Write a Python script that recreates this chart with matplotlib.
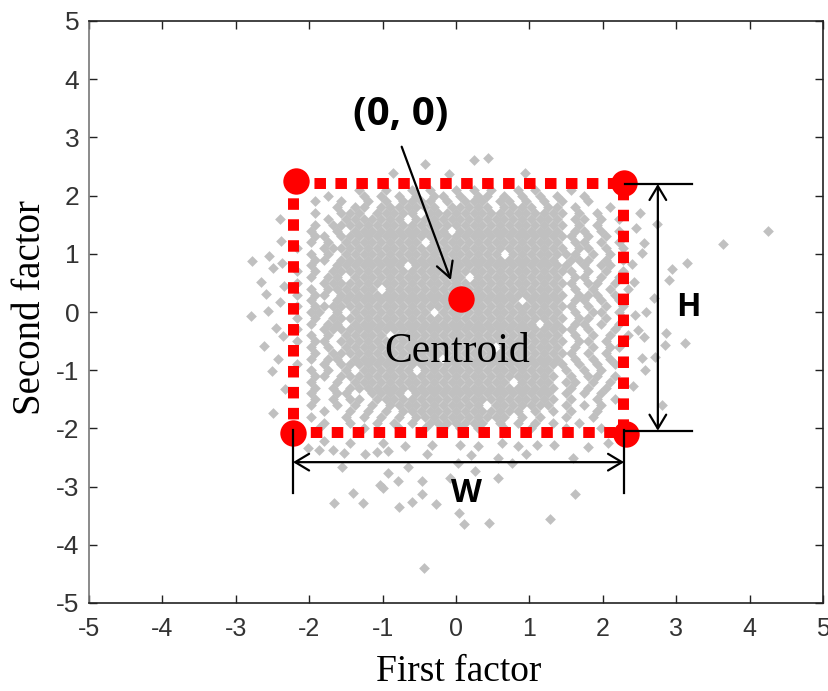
import matplotlib
matplotlib.use("Agg")
import matplotlib.pyplot as plt
from matplotlib.patches import FancyArrowPatch, ArrowStyle

plt.rcParams['axes.unicode_minus'] = False

# ---------------- data ----------------
x_ticks = [-5, -4, -3, -2, -1, 0, 1, 2, 3, 4, 5]
y_ticks = [-5, -4, -3, -2, -1, 0, 1, 2, 3, 4, 5]
x_label = "First factor"
y_label = "Second factor"

# dense part of the cloud, read from the picture as an occupancy map
# (rows from top y=2.1 downwards in 0.1 steps; columns from x=-2.16 in 0.12 steps,
#  odd rows shifted by half a column)
cloud_left = -2.16
cloud_dx = 0.12
cloud_top = 2.10
cloud_dy = 0.10
cloud_rows = [
    "......." + "#..#..#.#..#.#.#..#.#." + "..#......",
    "...#..." + "#.#.#.#.##.#.##.#.#.#." + "#..#.....",
    "..#..#." + ".#.#.####.#.###.##.#.#" + ".#..#....",
    "....#.#" + "#.#######.#####.####.#" + "#.#...#..",
    "..#..##" + "#.#####.##############" + "##.#.#...",
    "...#.##" + "#####.################" + "#.##.#.#.",
    "..#.###" + "######################" + "##.#.#...",
    ".#..#.#" + "##########.###########" + "#.##.#.#.",
    "..##.##" + "######################" + "###.#.#..",
    ".#.#.##" + "#######.##############" + "#.##.#.#.",
    "#..####" + "######################" + "##.##.#.#",
    ".#.#.##" + "################.#####" + "###.#.#..",
    "..##.##" + "######################" + "#.###.#.#",
    ".#..###" + "#####.################" + "##.#.##..",
    "#.#.###" + "######################" + "###.#.#.#",
    ".#.##.#" + "############.#########" + "#.##.#.#.",
    "#..####" + "######################" + "###.##.#.",
    ".#.####" + "##.###################" + "#.#.#.#.#",
    "#.##.##" + "######################" + "##.###.#.",
    ".#..###" + "##################.###" + "#.##.#.#.",
    "#.#####" + "######################" + "###.#.#.#",
    ".##.#.#" + "########.#############" + "#.#.##.#.",
    "#.#.###" + "######################" + "##.##.#.#",
    ".#.##.#" + "####################.#" + "#.##.#.#.",
    "#..####" + "######################" + "###.#..#.",
    ".#.#.##" + "###.##################" + "#.#.#.#.#",
    "#.##.##" + "######################" + "##.##.#..",
    ".#.#.##" + "###############.######" + "#.#.#.##.",
    "..#.###" + "######################" + "###.#.#..",
    ".#.##.#" + "#########.############" + "#.#.#.#..",
    "#..#.##" + "######################" + "##.#.#.#.",
    ".#.#.#." + "######.###############" + ".#.#.#...",
    "..##.##" + "######################" + "#.#.##.#.",
    ".#..#.#" + "#################.####" + ".##.#.#..",
    "..#.#.#" + "######################" + "#.#.#.#..",
    ".#..##." + ".####.################" + ".#.#.#...",
    "..#.#.#" + "#.####################" + "#.#..#.#.",
    ".#..#.#" + ".#.###########.#######" + ".#.#.#...",
    "...#..#" + ".#.#.##############.#." + "#.#..#...",
    ".#...#." + "#.#.#.###########.#.#." + ".#..#....",
    "...#..#" + "..#.#.#.#######.#.#.#." + "#..#.....",
    "..#...." + "#...#..#.#.#.#..#..#.." + ".#...#...",
]

# scattered points outside the dense part
outlier_x = [4.25, 3.64, 3.15, 2.94, 2.90, 2.74, 2.51, 2.56, 2.53, 2.59, 2.70, 2.86, 3.12,
             2.85, 2.56, 2.48, 2.44, 2.53, 2.71, 2.81, 2.57, 2.07, 2.42, 2.41, 2.40, 2.45,
             -2.78, -2.55, -2.49, -2.37, -2.66, -2.59, -2.79, -2.56, -2.51, -2.49, -2.40,
             -2.36, -2.62, -2.45, -2.38, -2.33, -2.42, -2.35, -2.40,
             -2.02, -1.87, -1.68, -1.53, -1.24, -1.08, -0.93, -1.55, -0.93, -0.79, -1.04,
             -1.40, -1.66, -1.27, -0.78, -0.60, -1.00, -0.65, -0.40, -0.33, 0.05, 0.03,
             -0.08, -0.46, -0.46, -0.27, 0.04, 0.11, 0.45, 1.28, 1.62, -0.44, 1.59, 0.95,
             0.76, 0.57, 0.26, 0.57, 1.34, 0.30, 0.62, 0.85, 1.10, 1.80, -0.70, -1.00,
             0.20, -1.45, -1.80,
             -0.42, 0.25, 0.44, -0.86, 0.94, -0.10]
outlier_y = [1.39, 1.17, 0.84, 0.74, 0.55, 1.51, 1.70, 1.19, 1.01, 0.00, 0.24, -0.36, -0.53,
             -0.57, -0.43, -0.31, -0.05, -0.79, -0.77, -1.60, -1.00, -2.25, 0.52, -1.28, 0.83, 1.45,
             0.88, 0.96, 0.76, 0.84, 0.52, 0.31, -0.07, 0.02, -1.01, -1.74, 0.18,
             -0.42, -0.58, -0.27, 1.22, -1.32, -0.80, 0.45, 1.60,
             -2.34, -2.37, -2.37, -2.42, -2.44, -2.41, -2.39, -2.66, -2.77, -2.90, -2.97,
             -3.11, -3.28, -3.28, -3.35, -3.27, -3.02, -2.66, -2.44, -2.29, -2.29, -2.60,
             -2.85, -2.90, -3.13, -3.30, -3.46, -3.64, -3.62, -3.56, -3.13, -4.40, -2.51, -2.44,
             -2.59, -2.50, -2.73, -2.85, -2.29, -2.30, -2.25, -2.30, -2.28, -2.32, -2.30, -2.25,
             -2.45, -2.25, -2.22,
             2.54, 2.61, 2.65, 2.39, 2.39, 2.37]

# bounding box (dotted) and its corner points, centroid
box_x = [-2.22, 2.27, 2.27, -2.22, -2.22]
box_y = [2.22, 2.22, -2.06, -2.06, 2.22]
corner_x = [-2.18, 2.29, -2.22, 2.32]
corner_y = [2.25, 2.22, -2.08, -2.10]
centroid_x = [0.07]
centroid_y = [0.22]

# dimension lines
h_x = 2.75
h_top, h_bottom = 2.20, -2.04
h_ext = (2.30, 3.22)
w_y = -2.58
w_left, w_right = -2.22, 2.29
w_ext = (-2.03, -3.11)

# ---------------- build cloud ----------------
cx, cy = [], []
for i, row in enumerate(cloud_rows):
    yv = cloud_top - i * cloud_dy
    off = cloud_dx / 2 if i % 2 else 0.0
    for j, ch in enumerate(row):
        if ch == "#":
            cx.append(cloud_left + j * cloud_dx + off)
            cy.append(yv)
all_x = cx + outlier_x
all_y = cy + outlier_y

# ---------------- figure ----------------
fig = plt.figure(figsize=(8.29, 6.91), dpi=100)
ax = fig.add_axes([89 / 829, 88 / 691, 734 / 829, 582 / 691])
ax.set_xlim(-5, 5)
ax.set_ylim(-5, 5)

ax.scatter(all_x, all_y, marker="D", s=30, c="#c0c0c0", linewidths=0, zorder=2)

ax.plot(box_x, box_y, color="#ff0000", lw=7.9, linestyle=(0, (1.05, 0.86)),
        dash_capstyle="butt", zorder=3)
ax.plot(corner_x, corner_y, "o", color="#ff0000", ms=19, mec="none", zorder=4)
ax.plot(centroid_x, centroid_y, "o", color="#ff0000", ms=19, mec="none", zorder=4)

lw_blk = 1.6
# H dimension
ax.plot(h_ext, [h_top, h_top], color="black", lw=lw_blk, zorder=5)
ax.plot(h_ext, [h_bottom, h_bottom], color="black", lw=lw_blk, zorder=5)
ax.add_patch(FancyArrowPatch((h_x, h_top), (h_x, h_bottom),
                             arrowstyle=ArrowStyle("<->", head_length=0.5, head_width=0.3),
                             mutation_scale=20, shrinkA=0, shrinkB=0, color="black",
                             lw=lw_blk, zorder=5))
# W dimension
ax.plot([w_left, w_left], w_ext, color="black", lw=lw_blk, zorder=5)
ax.plot([w_right, w_right], w_ext, color="black", lw=lw_blk, zorder=5)
ax.add_patch(FancyArrowPatch((w_left, w_y), (w_right, w_y),
                             arrowstyle=ArrowStyle("<->", head_length=0.5, head_width=0.3),
                             mutation_scale=20, shrinkA=0, shrinkB=0, color="black",
                             lw=lw_blk, zorder=5))

# annotation arrow
ax.add_patch(FancyArrowPatch((-0.74, 2.84), (-0.07, 0.55),
                             arrowstyle=ArrowStyle("->", head_length=0.55, head_width=0.3),
                             mutation_scale=20, shrinkA=0, shrinkB=0, color="black",
                             lw=lw_blk, zorder=5))

ax.text(-0.75, 3.40, "(0, 0)", fontsize=29, fontweight="bold", family="Open Sans",
        ha="center", va="center", zorder=6)
ax.text(3.16, 0.07, "H", fontsize=23, fontweight="bold", family="Open Sans",
        ha="center", va="center", zorder=6)
ax.text(0.14, -3.11, "W", fontsize=23, fontweight="bold", family="Open Sans",
        ha="center", va="center", zorder=6)
ax.text(0.02, -0.69, "Centroid", fontsize=30, family="Liberation Serif",
        ha="center", va="center", zorder=6)

# axes styling
ax.set_xticks(x_ticks)
ax.set_yticks(y_ticks)
ax.set_xticklabels([str(t) for t in x_ticks])
ax.set_yticklabels([str(t) for t in y_ticks])
ax.tick_params(direction="in", length=5.5, width=1.0, top=True, right=True,
               labelcolor="#333333", color="#222222")
ax.tick_params(axis="x", labelsize=18, pad=10)
ax.tick_params(axis="y", labelsize=19, pad=7)
for lab in ax.get_xticklabels() + ax.get_yticklabels():
    lab.set_family("Liberation Sans")
for side in ["top", "right", "bottom"]:
    ax.spines[side].set_color("#222222")
    ax.spines[side].set_linewidth(1.2)
ax.spines["left"].set_color("#777777")
ax.spines["left"].set_linewidth(1.2)

ax.set_xlabel(x_label, fontsize=27, family="Liberation Serif")
ax.set_ylabel(y_label, fontsize=28, family="Liberation Serif")
ax.xaxis.set_label_coords(0.503, -0.1186)
ax.xaxis.label.set_va("center")
ax.yaxis.set_label_coords(-0.080, 0.507)
ax.yaxis.label.set_rotation_mode("default")
ax.yaxis.label.set_va("center")
ax.yaxis.label.set_ha("center")

fig.savefig("out.png", dpi=100)
